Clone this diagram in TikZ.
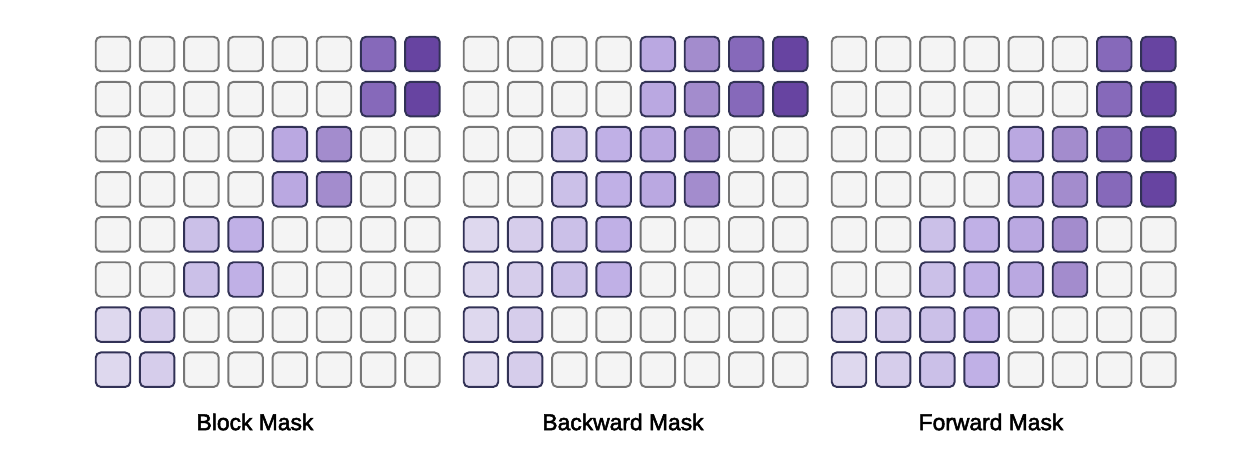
\documentclass[tikz,border=0pt]{standalone}
\usepackage{fontspec}
\setmainfont{Liberation Sans}
\newfontfamily\lblfont[FakeBold=2.2]{Liberation Sans}
\usetikzlibrary{positioning}
\definecolor{maskgray}{HTML}{F4F4F4}
\definecolor{maskedge}{HTML}{767676}
\definecolor{maskdark}{HTML}{323256}
\definecolor{mask0}{HTML}{DED8EE}
\definecolor{mask1}{HTML}{D6CDEB}
\definecolor{mask2}{HTML}{CBC0E8}
\definecolor{mask3}{HTML}{C0B0E6}
\definecolor{mask4}{HTML}{BAA8E1}
\definecolor{mask5}{HTML}{A38CCD}
\definecolor{mask6}{HTML}{8669BA}
\definecolor{mask7}{HTML}{6744A1}

\begin{document}
\begin{tikzpicture}[x=0.02cm,y=-0.02cm,
    cell/.style={draw=maskedge,fill=maskgray,rounded corners=0.1cm,line width=1.1pt,minimum size=0.69cm,inner sep=0pt},
    oncell/.style={draw=maskdark,fill=#1},
    lbl/.style={font=\lblfont\fontsize{13}{15}\selectfont}
  ]
  \useasboundingbox (0,0) rectangle (1256,466);

  % three masks: extra columns to the left / right of each block
  \foreach \g/\name/\lo/\hi in {0/Block/0/0,1/Backward/2/0,2/Forward/0/2}{
    \foreach \r in {0,...,7}{
      \foreach \c in {0,...,7}{
        \pgfmathtruncatemacro\p{int(\r/2)}
        \pgfmathtruncatemacro\act{and(\c>=6-2*\p-\lo,\c<=7-2*\p+\hi)}
        \ifnum\act=1
          \node[cell,oncell=mask\c] (m\g-\r-\c) at (113+368*\g+44.2*\c,54+45.1*\r) {};
        \else
          \node[cell] (m\g-\r-\c) at (113+368*\g+44.2*\c,54+45.1*\r) {};
        \fi
      }
    }
    \node[lbl] (lbl\g) at (255+368*\g,422) {\name\ Mask};
  }
\end{tikzpicture}
\end{document}
